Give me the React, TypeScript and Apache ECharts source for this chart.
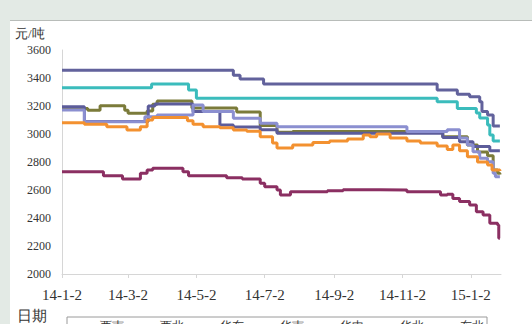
import React, { useEffect, useRef } from "react";
import * as echarts from "echarts";

const seriesNames = ["西南", "西北", "华东", "华南", "华中", "华北", "东北"];
const seriesColors = ["#62629c", "#3bbcbc", "#7b7b3a", "#5c5c9a", "#8b8fd0", "#f39130", "#8b2f62"];

const s1: [string, number][] = [
  ["2014-01-02", 3455], ["2014-06-04", 3420], ["2014-06-10", 3393], ["2014-07-01", 3357],
  ["2014-12-03", 3314], ["2014-12-21", 3284], ["2015-01-01", 3266], ["2015-01-10", 3231],
  ["2015-01-12", 3160], ["2015-01-17", 3136], ["2015-01-22", 3057], ["2015-01-28", 3057],
];
const s2: [string, number][] = [
  ["2014-01-02", 3331], ["2014-03-23", 3357], ["2014-04-25", 3314], ["2014-05-02", 3255],
  ["2014-12-03", 3231], ["2014-12-21", 3183], ["2015-01-07", 3150], ["2015-01-10", 3114],
  ["2015-01-17", 3064], ["2015-01-19", 2993], ["2015-01-22", 2950], ["2015-01-28", 2950],
];
const s3: [string, number][] = [
  ["2014-01-02", 3183], ["2014-01-25", 3170], ["2014-02-05", 3202], ["2014-02-27", 3170],
  ["2014-03-02", 3148], ["2014-03-19", 3164], ["2014-03-24", 3212], ["2014-03-28", 3236],
  ["2014-04-28", 3186], ["2014-06-07", 3157], ["2014-06-28", 3060], ["2014-07-13", 3012],
  ["2014-07-27", 3018], ["2014-11-06", 3010], ["2014-12-08", 2981], ["2014-12-30", 2921],
  ["2015-01-08", 2871], ["2015-01-17", 2845], ["2015-01-22", 2743], ["2015-01-26", 2720],
  ["2015-01-28", 2710],
];
const s4: [string, number][] = [
  ["2014-01-02", 3195], ["2014-01-22", 3090], ["2014-03-20", 3200], ["2014-03-26", 3215],
  ["2014-04-29", 3160], ["2014-05-23", 3064], ["2014-06-04", 3050], ["2014-06-28", 3030],
  ["2014-07-13", 3005], ["2014-12-08", 2975], ["2014-12-23", 2945], ["2015-01-04", 2910],
  ["2015-01-19", 2880], ["2015-01-28", 2880],
];
const s5: [string, number][] = [
  ["2014-01-02", 3171], ["2014-01-22", 3088], ["2014-03-17", 3124], ["2014-03-28", 3136],
  ["2014-04-29", 3207], ["2014-05-08", 3160], ["2014-06-04", 3112], ["2014-06-28", 3076],
  ["2014-07-13", 3052], ["2014-11-06", 3017], ["2014-12-12", 3030], ["2014-12-23", 2971],
  ["2014-12-30", 2921], ["2015-01-04", 2874], ["2015-01-10", 2826], ["2015-01-17", 2802],
  ["2015-01-22", 2719], ["2015-01-24", 2695], ["2015-01-28", 2695],
];
const s6: [string, number][] = [
  ["2014-01-02", 3081], ["2014-01-22", 3070], ["2014-02-11", 3052], ["2014-03-01", 3029],
  ["2014-03-13", 3052], ["2014-03-19", 3100], ["2014-03-24", 3117], ["2014-04-24", 3095],
  ["2014-04-29", 3070], ["2014-05-08", 3052], ["2014-05-23", 3045], ["2014-06-04", 3029],
  ["2014-06-16", 3020], ["2014-06-28", 2981], ["2014-07-09", 2936], ["2014-07-13", 2900],
  ["2014-07-27", 2921], ["2014-08-14", 2940], ["2014-08-29", 2950], ["2014-09-14", 2964],
  ["2014-09-28", 2993], ["2014-10-04", 2980], ["2014-10-10", 3000], ["2014-10-22", 2971],
  ["2014-11-06", 2950], ["2014-11-18", 2936], ["2014-12-03", 2914], ["2014-12-12", 2890],
  ["2014-12-17", 2921], ["2014-12-23", 2880], ["2014-12-30", 2838], ["2015-01-08", 2800],
  ["2015-01-17", 2779], ["2015-01-21", 2743], ["2015-01-28", 2735],
];
const s7: [string, number][] = [
  ["2014-01-02", 2731], ["2014-02-08", 2702], ["2014-02-25", 2679], ["2014-03-13", 2719],
  ["2014-03-19", 2743], ["2014-03-24", 2755], ["2014-04-20", 2731], ["2014-04-25", 2702],
  ["2014-05-29", 2688], ["2014-06-12", 2679], ["2014-06-28", 2648], ["2014-07-02", 2624],
  ["2014-07-13", 2600], ["2014-07-16", 2564], ["2014-07-25", 2588], ["2014-08-27", 2595],
  ["2014-09-10", 2602], ["2014-10-13", 2600], ["2014-11-06", 2588], ["2014-12-06", 2564],
  ["2014-12-12", 2570], ["2014-12-17", 2540], ["2014-12-23", 2517], ["2015-01-01", 2493],
  ["2015-01-07", 2445], ["2015-01-13", 2421], ["2015-01-19", 2362], ["2015-01-26", 2350],
  ["2015-01-27", 2255], ["2015-01-28", 2250],
];
const allSeries = [s1, s2, s3, s4, s5, s6, s7];

const xTickDates = ["2014-01-02", "2014-03-02", "2014-05-02", "2014-07-02", "2014-09-02", "2014-11-02", "2015-01-02"];
const xMinDate = "2014-01-02";
const xMaxDate = "2015-01-29";
const yMin = 2000;
const yMax = 3600;
const yStep = 200;
const yUnit = "元/吨";
const xName = "日期";

const toTime = (s: string) => {
  const [y, m, d] = s.split("-").map(Number);
  return Date.UTC(y, m - 1, d);
};

const SERIF = "Liberation Serif";

export default function App() {
  const ref = useRef<HTMLDivElement>(null);
  useEffect(() => {
    if (!ref.current) return;
    const chart = echarts.init(ref.current, undefined, { renderer: "svg" });
    const tickVals = xTickDates.map(toTime);
    chart.setOption({
      animation: false,
      grid: { left: 62, right: 31, top: 50, bottom: 50 },
      xAxis: {
        type: "value",
        min: toTime(xMinDate),
        max: toTime(xMaxDate),
        splitLine: { show: false },
        axisLine: { lineStyle: { color: "#d6d6d6", width: 1 } },
        axisTick: { show: true, customValues: tickVals, length: 4, lineStyle: { color: "#d6d6d6" } },
        axisLabel: {
          customValues: tickVals,
          margin: 13,
          color: "#333",
          fontSize: 15,
          fontFamily: SERIF,
          formatter: (v: number) => {
            const d = new Date(v);
            return `${String(d.getUTCFullYear()).slice(2)}-${d.getUTCMonth() + 1}-${d.getUTCDate()}`;
          },
        },
      },
      yAxis: {
        type: "value",
        min: yMin,
        max: yMax,
        interval: yStep,
        splitLine: { show: false },
        axisLine: { show: true, lineStyle: { color: "#d6d6d6" } },
        axisTick: { show: false },
        axisLabel: {
          color: "#333",
          fontSize: 12,
          margin: 11,
          fontFamily: SERIF,
          formatter: (v: number) => String(v),
        },
      },
      legend: {
        left: 67,
        top: 317,
        width: 420,
        padding: [3, 3, 3, 3],
        icon: "rect",
        itemWidth: 25,
        itemHeight: 3,
        itemGap: 6,
        borderColor: "#9a9a9a",
        borderWidth: 1,
        textStyle: { fontSize: 12, color: "#333", fontFamily: SERIF },
        data: seriesNames,
      },
      graphic: [
        { type: "text", left: 15, top: 27, style: { text: yUnit, fill: "#333", fontSize: 13, fontFamily: SERIF } },
        { type: "text", left: 17, top: 308, style: { text: xName, fill: "#333", fontSize: 15, fontFamily: SERIF } },
      ],
      series: allSeries.map((d, i) => ({
        name: seriesNames[i],
        type: "line",
        step: "end",
        symbol: "none",
        data: d.map(([t, v]) => [toTime(t), v]),
        lineStyle: { color: seriesColors[i], width: 3 },
        itemStyle: { color: seriesColors[i] },
      })),
    });
    return () => chart.dispose();
  }, []);
  return (
    <div style={{ position: "fixed", left: 0, top: 0, width: 532, height: 324, background: "#e3eae5", overflow: "hidden" }}>
      <div style={{ position: "absolute", left: 10, top: 20, width: 522, height: 304, background: "#fff", borderTop: "1px solid #b8bcb9" }} />
      <div ref={ref} style={{ position: "absolute", left: 0, top: 0, width: 532, height: 324 }} />
    </div>
  );
}
